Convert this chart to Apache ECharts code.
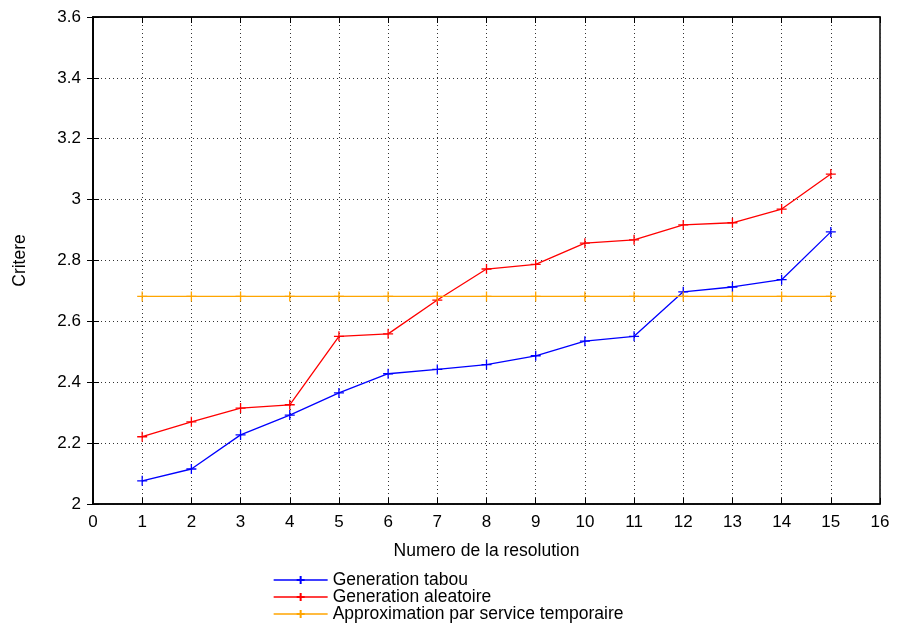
<!DOCTYPE html>
<html>
<head>
<meta charset="utf-8">
<script src="https://cdn.jsdelivr.net/npm/echarts@6/dist/echarts.min.js"></script>
<style>html,body{margin:0;padding:0;background:#fff}#c{width:898px;height:627px}</style>
</head>
<body>
<div id="c"></div>
<script>
const xValues = [1,2,3,4,5,6,7,8,9,10,11,12,13,14,15];
const tabou = [2.076,2.115,2.227,2.292,2.365,2.428,2.442,2.458,2.487,2.535,2.551,2.697,2.713,2.737,2.894];
const aleatoire = [2.221,2.270,2.315,2.326,2.551,2.559,2.670,2.772,2.787,2.857,2.868,2.917,2.924,2.969,3.084];
const approx = [2.682,2.682,2.682,2.682,2.682,2.682,2.682,2.682,2.682,2.682,2.682,2.682,2.682,2.682,2.682];
const seriesNames = ['Generation tabou','Generation aleatoire','Approximation par service temporaire'];
const seriesColors = ['#0000ff','#ff0000','#ffa500'];
const xTitle = 'Numero de la resolution';
const yTitle = 'Critere';

const font = 'Liberation Sans, Arial, Helvetica, sans-serif';
const fs = 17;
const plus = 'path://M0,5L10,5M5,0L5,10';
function mk(name, vals, color) {
  return {
    name: name, type: 'line',
    data: xValues.map((x, i) => [x, vals[i]]),
    symbol: plus, symbolSize: 10,
    lineStyle: {color: color, width: 1.3},
    itemStyle: {color: 'transparent', borderColor: color, borderWidth: 1.3},
    emphasis: {disabled: true},
    animation: false
  };
}
const chart = echarts.init(document.getElementById('c'), null, {renderer: 'canvas'});
const splitStyle = {show: true, lineStyle: {color: '#333', type: [1, 3], width: 1}};
chart.setOption({
  animation: false,
  grid: {left: 93, right: 18, top: 17, bottom: 123, show: true, borderColor: '#000', borderWidth: 1.5, backgroundColor: 'transparent'},
  legend: {
    orient: 'vertical', left: 273, top: 571, itemWidth: 54, itemHeight: 10, itemGap: -1, padding: 0,
    lineStyle: {width: 1.3},
    textStyle: {fontFamily: font, fontSize: 17.5, color: '#000', lineHeight: 17},
    data: seriesNames
  },
  xAxis: [{
    type: 'value', min: 0, max: 16, interval: 1, position: 'bottom',
    name: xTitle, nameLocation: 'middle', nameGap: 38,
    nameTextStyle: {fontFamily: font, fontSize: 17.5, color: '#000'},
    axisLine: {show: true, lineStyle: {color: '#000', width: 1.5}},
    axisTick: {show: true, inside: true, length: 6, lineStyle: {color: '#000'}},
    axisLabel: {fontFamily: font, fontSize: fs, color: '#000', margin: 10},
    splitLine: splitStyle
  }, {
    type: 'value', min: 0, max: 16, interval: 1, position: 'top',
    axisLine: {show: true, lineStyle: {color: '#000', width: 1.5}},
    axisTick: {show: true, inside: true, length: 6, lineStyle: {color: '#000'}},
    axisLabel: {show: false}, splitLine: {show: false}
  }],
  yAxis: [{
    type: 'value', min: 2, max: 3.6, interval: 0.2, position: 'left',
    name: yTitle, nameLocation: 'middle', nameGap: 64, nameRotate: 90,
    nameTextStyle: {fontFamily: font, fontSize: 17.5, color: '#000'},
    axisLine: {show: true, lineStyle: {color: '#000', width: 1.5}},
    axisTick: {show: true, inside: true, length: 6, lineStyle: {color: '#000'}},
    axisLabel: {fontFamily: font, fontSize: fs, color: '#000', margin: 12,
      formatter: v => String(Math.round(v * 10) / 10)},
    splitLine: splitStyle
  }, {
    type: 'value', min: 2, max: 3.6, interval: 0.2, position: 'right',
    axisLine: {show: true, lineStyle: {color: '#000', width: 1.5}},
    axisTick: {show: true, inside: true, length: 6, lineStyle: {color: '#000'}},
    axisLabel: {show: false}, splitLine: {show: false}
  }],
  series: [
    mk(seriesNames[0], tabou, seriesColors[0]),
    mk(seriesNames[1], aleatoire, seriesColors[1]),
    mk(seriesNames[2], approx, seriesColors[2])
  ]
});
</script>
</body>
</html>
